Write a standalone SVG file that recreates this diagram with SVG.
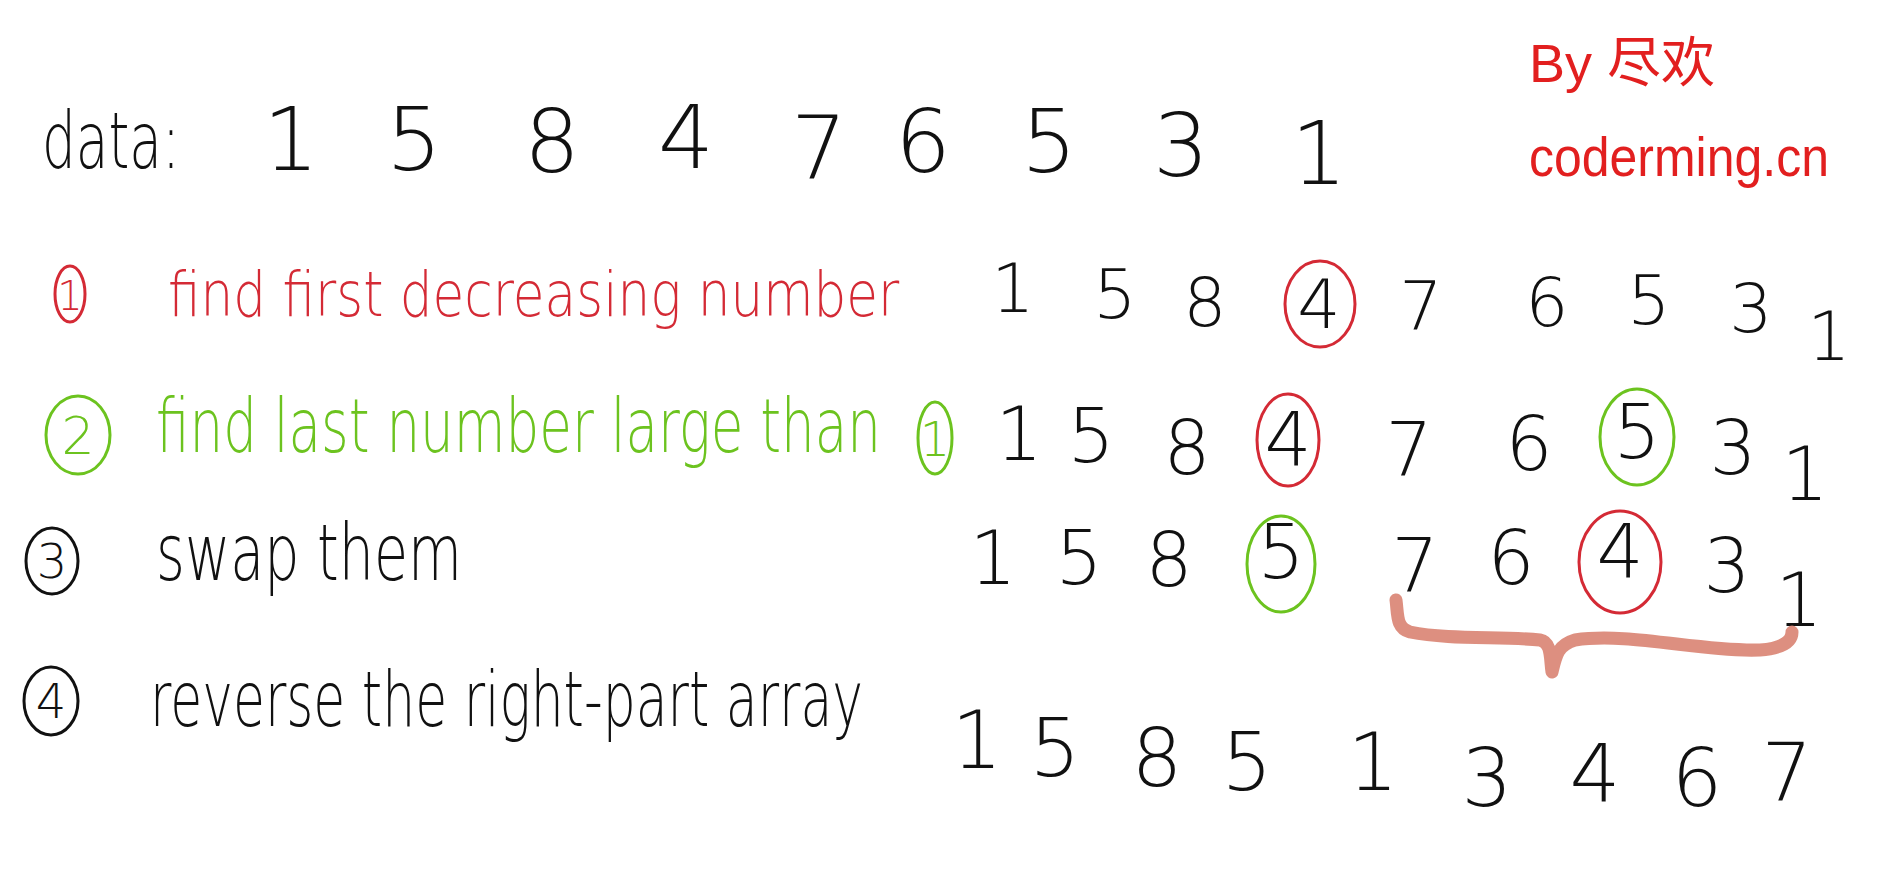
<svg xmlns="http://www.w3.org/2000/svg" width="1880" height="878" viewBox="0 0 1880 878">
<style>
.hw{font-family:"DejaVu Sans","Liberation Sans","Noto Sans CJK SC",sans-serif;font-weight:200}
.k{fill:#111}
.r{fill:#d42a35}
.wm{fill:#e21f1f;font-family:"Liberation Sans","Noto Sans CJK SC",sans-serif;font-weight:normal}
.g{fill:#6cc31f}
.d{font-family:"DejaVu Sans","Liberation Sans",sans-serif;font-weight:200;fill:#111;text-anchor:middle}
.cr{fill:none;stroke:#d42a35;stroke-width:3}
.cg{fill:none;stroke:#6cc31f;stroke-width:3}
.ck{fill:none;stroke:#111;stroke-width:3}
</style>
<rect width="1880" height="878" fill="#fff"/>
<g id="watermark">
<text class="wm" x="1529" y="82" font-size="54">By 尽欢</text>
<text class="wm" transform="translate(1529,176) scale(0.89,1)" x="0" y="0" font-size="56" textLength="337" lengthAdjust="spacingAndGlyphs">coderming.cn</text>
</g>
<g id="row-data">
<text class="hw k" transform="translate(42,168) scale(0.683,1)" x="0" y="0" font-size="78" textLength="202" lengthAdjust="spacingAndGlyphs">data:</text>
<g class="d" font-size="88">
<text x="291" y="170">1</text><text x="414" y="170">5</text><text x="552" y="172">8</text><text x="686" y="168">4</text><text x="819" y="178">7</text><text x="923" y="172">6</text><text x="1049" y="172">5</text><text x="1181" y="176">3</text><text x="1319" y="184">1</text>
</g>
</g>
<g id="step1">
<ellipse class="cr" cx="70" cy="294" rx="15" ry="28"/>
<text class="hw r" x="70" y="310" font-size="40" text-anchor="middle">1</text>
<text class="hw r" transform="translate(168,316) scale(0.83,1)" x="0" y="0" font-size="62" textLength="881" lengthAdjust="spacingAndGlyphs">find first decreasing number</text>
<g class="d" font-size="68">
<text x="1013" y="312">1</text><text x="1115" y="318">5</text><text x="1205" y="326">8</text><text x="1319" y="328">4</text><text x="1421" y="330">7</text><text x="1547" y="326">6</text><text x="1649" y="324">5</text><text x="1751" y="332">3</text><text x="1829" y="360">1</text>
</g>
<ellipse class="cr" cx="1320" cy="304" rx="35" ry="43"/>
</g>
<g id="step2">
<ellipse class="cg" cx="78" cy="435" rx="32" ry="39"/>
<text class="hw g" x="78" y="454" font-size="52" text-anchor="middle">2</text>
<text class="hw g" transform="translate(156,452) scale(0.715,1)" x="0" y="0" font-size="74" textLength="1014" lengthAdjust="spacingAndGlyphs">find last number large than</text>
<ellipse class="cg" cx="935" cy="438" rx="17" ry="36"/>
<text class="hw g" x="935" y="456" font-size="48" text-anchor="middle">1</text>
<g class="d" font-size="74">
<text x="1019" y="460">1</text><text x="1091" y="462">5</text><text x="1187" y="474">8</text><text x="1288" y="466">4</text><text x="1409" y="476">7</text><text x="1529" y="470">6</text><text x="1637" y="458">5</text><text x="1733" y="474">3</text><text x="1805" y="500">1</text>
</g>
<ellipse class="cr" cx="1288" cy="440" rx="31" ry="46"/>
<ellipse class="cg" cx="1637" cy="437" rx="37" ry="48"/>
</g>
<g id="step3">
<ellipse class="ck" cx="52" cy="561" rx="26" ry="33"/>
<text class="hw k" x="52" y="578" font-size="48" text-anchor="middle">3</text>
<text class="hw k" transform="translate(156,580) scale(0.71,1)" x="0" y="0" font-size="78" textLength="431" lengthAdjust="spacingAndGlyphs">swap them</text>
<g class="d" font-size="74">
<text x="993" y="584">1</text><text x="1079" y="584">5</text><text x="1169" y="586">8</text><text x="1281" y="578">5</text><text x="1415" y="592">7</text><text x="1511" y="584">6</text><text x="1620" y="578">4</text><text x="1727" y="592">3</text><text x="1799" y="626">1</text>
</g>
<ellipse class="cg" cx="1281" cy="564" rx="34" ry="48"/>
<ellipse class="cr" cx="1620" cy="562" rx="41" ry="51"/>
</g>
<g id="brace">
<path d="M1396,600 C1398,615 1396,628 1410,632 C1450,640 1500,636 1540,640 C1552,642 1550,660 1552,672 C1556,655 1558,645 1575,640 C1630,632 1700,652 1760,650 C1785,648 1792,640 1792,632" fill="none" stroke="#d98372" stroke-width="13" stroke-linecap="round" stroke-linejoin="round" opacity="0.9"/>
</g>
<g id="step4">
<ellipse class="ck" cx="51" cy="701" rx="27" ry="34"/>
<text class="hw k" x="51" y="718" font-size="48" text-anchor="middle">4</text>
<text class="hw k" transform="translate(150,726) scale(0.681,1)" x="0" y="0" font-size="76" textLength="1047" lengthAdjust="spacingAndGlyphs">reverse the right-part array</text>
<g class="d" font-size="80">
<text x="977" y="768">1</text><text x="1055" y="776">5</text><text x="1157" y="786">8</text><text x="1247" y="790">5</text><text x="1373" y="790">1</text><text x="1487" y="806">3</text><text x="1595" y="802">4</text><text x="1697" y="806">6</text><text x="1787" y="800">7</text>
</g>
</g>
</svg>
